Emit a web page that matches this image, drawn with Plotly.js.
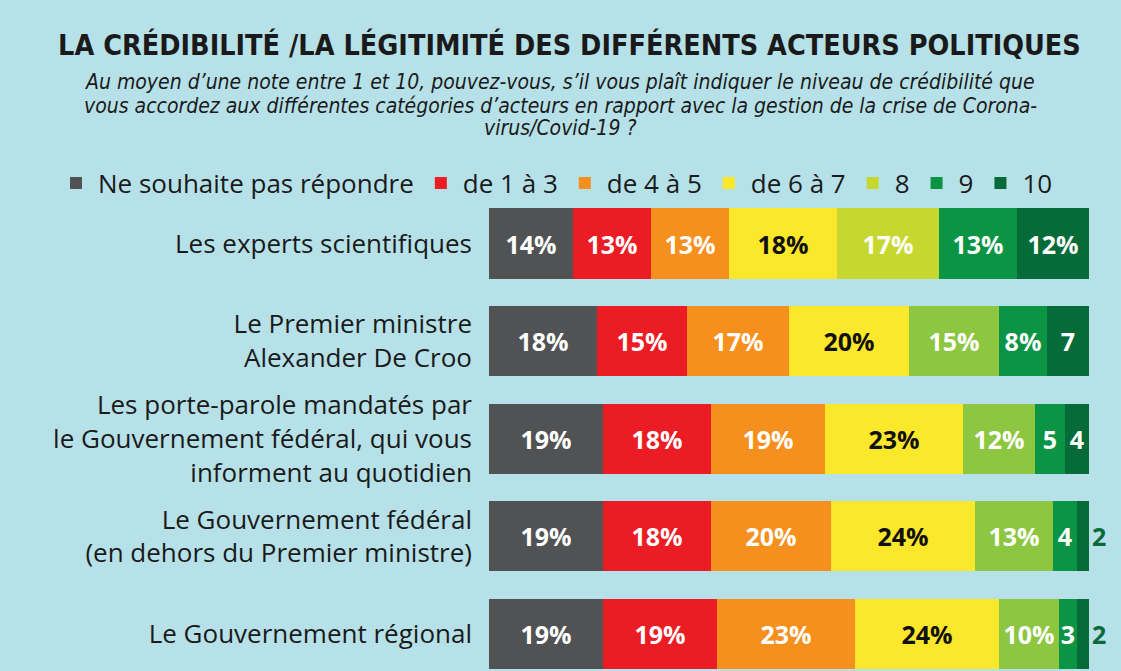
<!DOCTYPE html>
<html>
<head>
<meta charset="utf-8">
<script src="https://cdn.plot.ly/plotly-3.0.1.min.js"></script>
<style>html,body{margin:0;padding:0;background:#b7e1e8;}#chart{width:1121px;height:671px;}</style>
</head>
<body>
<div id="chart"></div>
<script>
const categories = [
  "Les experts scientifiques",
  "Le Premier ministre<br>Alexander De Croo",
  "Les porte-parole mandatés par<br>le Gouvernement fédéral, qui vous<br>informent au quotidien",
  "Le Gouvernement fédéral<br>(en dehors du Premier ministre)",
  "Le Gouvernement régional"
];
const seriesNames = ["Ne souhaite pas répondre", "de 1 à 3", "de 4 à 5", "de 6 à 7", "8", "9", "10"];
const noResponse = [14, 18, 19, 19, 19];
const score1to3 = [13, 15, 18, 18, 19];
const score4to5 = [13, 17, 19, 20, 23];
const score6to7 = [18, 20, 23, 24, 24];
const score8 = [17, 15, 12, 13, 10];
const score9 = [13, 8, 5, 4, 3];
const score10 = [12, 7, 4, 2, 2];

const allSeries = [noResponse, score1to3, score4to5, score6to7, score8, score9, score10];
const colors = ["#505254", "#ec1c24", "#f5901e", "#fce82a",
  ["#c6d830", "#8dc641", "#8dc641", "#8dc641", "#8dc641"], "#0a9444", "#056b38"];
const legendColors = ["#505254", "#ec1c24", "#f5901e", "#fce82a", "#c6d830", "#0a9444", "#056b38"];
const textColors = ["#ffffff", "#ffffff", "#ffffff", "#111111", "#ffffff", "#ffffff", "#ffffff"];

const traces = allSeries.map((vals, i) => ({
  type: "bar",
  orientation: "h",
  name: seriesNames[i],
  y: categories,
  x: vals,
  text: vals.map(v => v >= 8 ? v + "%" : String(v)),
  textposition: i === allSeries.length - 1 ? "auto" : "inside",
  insidetextanchor: "middle",
  textangle: 0,
  insidetextfont: {family: "Open Sans", size: 25, color: textColors[i], weight: "bold"},
  outsidetextfont: {family: "Open Sans", size: 25, color: "#0a6a3a", weight: "bold"},
  marker: {color: colors[i], line: {width: 0}},
  hoverinfo: "skip",
  cliponaxis: false
}));

const layout = {
  width: 1121,
  height: 671,
  paper_bgcolor: "#b7e1e8",
  plot_bgcolor: "#b7e1e8",
  barmode: "stack",
  bargap: 0.28,
  uniformtext: {mode: "show", minsize: 25},
  margin: {l: 489, r: 32, t: 200, b: 0, pad: 0},
  showlegend: true,
  legend: {
    orientation: "h",
    xref: "paper", yref: "paper",
    x: -0.725, y: 1.036, xanchor: "left", yanchor: "middle",
    font: {family: "Open Sans", size: 26, color: "#1a1a1a"},
    bgcolor: "rgba(0,0,0,0)",
    itemclick: false, itemdoubleclick: false,
    traceorder: "normal",
    itemwidth: 34
  },
  title: {
    text: "LA CRÉDIBILITÉ /LA LÉGITIMITÉ DES DIFFÉRENTS ACTEURS POLITIQUES",
    font: {family: "DejaVu Sans Condensed", size: 28.5, color: "#1a1a1a", weight: "bold"},
    xref: "container", x: 0.508, xanchor: "center",
    yref: "container", y: 0.933, yanchor: "middle"
  },
  xaxis: {range: [0, 100], visible: false, fixedrange: true},
  yaxis: {
    type: "category",
    categoryorder: "array",
    categoryarray: categories,
    range: [4.38, -0.446],
    autorange: false,
    showgrid: false, zeroline: false, showline: false,
    ticks: "",
    ticklabelstandoff: 16,
    tickfont: {family: "Open Sans", size: 26, color: "#1a1a1a"},
    fixedrange: true
  },
  annotations: [
    {text: "Au moyen d’une note entre 1 et 10, pouvez-vous, s’il vous plaît indiquer le niveau de crédibilité que", y: 1.2505},
    {text: "vous accordez aux différentes catégories d’acteurs en rapport avec la gestion de la crise de Corona-", y: 1.1996},
    {text: "virus/Covid-19 ?", y: 1.1529}
  ].map(a => ({
    text: a.text, xref: "paper", yref: "paper", x: 0.119, y: a.y,
    xanchor: "center", yanchor: "middle", showarrow: false,
    font: {family: "DejaVu Sans Condensed", size: 21, color: "#1a1a1a", style: "italic"}
  }))
};

Plotly.newPlot("chart", traces, layout, {displayModeBar: false, staticPlot: true}).then(() => {
  document.querySelectorAll(".legend .traces").forEach((g, i) => {
    const p = g.querySelector(".legendpoints path");
    if (p) p.style.fill = legendColors[i];
  });
});
</script>
</body>
</html>
